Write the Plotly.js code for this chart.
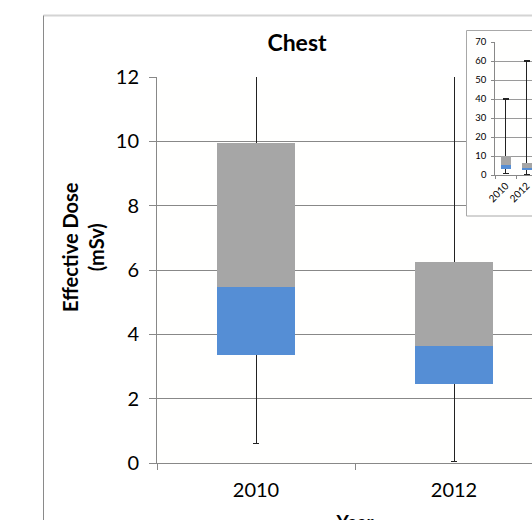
<!DOCTYPE html>
<html>
<head>
<meta charset="utf-8">
<script src="https://cdn.plot.ly/plotly-3.0.1.min.js"></script>
<style>
  html, body { margin: 0; padding: 0; overflow: hidden; background: #ffffff; }
  #chart { width: 640px; height: 560px; }
</style>
</head>
<body>
<div id="chart"></div>
<script>
// Chest CT effective dose (mSv) per survey year, drawn as box plots
const years = ['2010', '2012'];
const minDose = [0.6, 0.05];
const q1Dose = [3.35, 2.45];
const medianDose = [5.48, 3.64];
const q3Dose = [9.96, 6.26];
const maxDose = [40, 60];

const FONT = 'Lato, "Open Sans", sans-serif';
const BLUE = '#558ed5';
const GREY = '#a6a6a6';
const AXIS = '#888888';

// Figure geometry (pixels) used for paper-referenced frame lines
const W = 640, H = 560;
const M = { l: 157, r: 87, t: 30, b: 97 };
const PW = W - M.l - M.r, PH = H - M.t - M.b;
const px = v => (v - M.l) / PW;
const py = v => (H - M.b - v) / PH;

// A box is three stacked bars: an invisible base up to Q1 (carrying the
// whiskers), Q1..median in blue and median..Q3 in grey.
function boxTraces(xa, ya, width, capHalf, lineW) {
  const lower = medianDose.map((m, i) => m - q1Dose[i]);
  const upper = q3Dose.map((q, i) => q - medianDose[i]);
  const whiskerUp = maxDose.map((m, i) => m - q1Dose[i]);
  const whiskerDown = q1Dose.map((q, i) => q - minDose[i]);
  const common = { type: 'bar', x: years, xaxis: xa, yaxis: ya, width: width,
                   hoverinfo: 'skip', showlegend: false };
  return [
    Object.assign({}, common, {
      y: q1Dose,
      marker: { color: 'rgba(0,0,0,0)' },
      error_y: { type: 'data', symmetric: false, array: whiskerUp,
                 arrayminus: whiskerDown, color: '#222222',
                 thickness: lineW, width: capHalf }
    }),
    Object.assign({}, common, { y: lower, marker: { color: BLUE } }),
    Object.assign({}, common, { y: upper, marker: { color: GREY } })
  ];
}

const data = [
  ...boxTraces('x', 'y', 0.39, 3, 1),
  // white panel behind the inset chart
  { type: 'scatter', x: [], y: [], xaxis: 'x2', yaxis: 'y2',
    hoverinfo: 'skip', showlegend: false },
  ...boxTraces('x3', 'y3', 0.47, 3, 1.2)
];

const layout = {
  width: W, height: H,
  margin: M,
  paper_bgcolor: '#ffffff',
  plot_bgcolor: '#fffffe',
  barmode: 'stack',
  font: { family: FONT, color: '#000000' },
  title: {
    text: 'Chest',
    font: { family: FONT, size: 23, weight: 'bold', color: '#000000' },
    xref: 'container', yref: 'container',
    x: 297 / W, xanchor: 'center',
    y: 1 - 43 / H, yanchor: 'middle'
  },
  xaxis: {
    domain: [0, 1], anchor: 'y', type: 'category',
    showgrid: false, showline: true, linecolor: AXIS, linewidth: 1,
    ticks: 'outside', tickson: 'boundaries', ticklen: 6, tickcolor: AXIS,
    ticklabelstandoff: 9,
    tickfont: { family: FONT, size: 20, color: '#000000' },
    title: { text: 'Year', standoff: 15,
             font: { family: FONT, size: 19, weight: 'bold', color: '#000000' } },
    fixedrange: true
  },
  yaxis: {
    domain: [0, py(77)], anchor: 'x',
    range: [0, 12], dtick: 2, tick0: 0,
    showgrid: true, gridcolor: AXIS, gridwidth: 1, zeroline: false,
    showline: true, linecolor: AXIS, linewidth: 1,
    ticks: 'outside', ticklen: 7, tickcolor: AXIS,
    ticklabelstandoff: 6,
    tickfont: { family: FONT, size: 20, color: '#000000' },
    fixedrange: true
  },
  xaxis2: { domain: [px(466.5), 1], anchor: 'y2', visible: false, fixedrange: true },
  yaxis2: { domain: [py(216), 1], anchor: 'x2', visible: false, fixedrange: true },
  xaxis3: {
    domain: [px(495.3), px(537.3)], anchor: 'y3', type: 'category',
    showgrid: false, showline: true, linecolor: AXIS, linewidth: 1,
    ticks: 'outside', tickson: 'boundaries', ticklen: 3, tickcolor: AXIS,
    tickangle: -45,
    tickfont: { family: FONT, size: 10, color: '#000000' },
    fixedrange: true
  },
  yaxis3: {
    domain: [py(175), py(42)], anchor: 'x3',
    range: [0, 70], dtick: 10, tick0: 0,
    showgrid: true, gridcolor: '#9a9a9a', gridwidth: 1, zeroline: false,
    showline: true, linecolor: AXIS, linewidth: 1,
    ticks: 'outside', ticklen: 3, tickcolor: AXIS,
    ticklabelstandoff: 3,
    tickfont: { family: FONT, size: 9.5, color: '#000000' },
    fixedrange: true
  },
  annotations: [
    // y-axis title, centred on the box region rather than the full axis
    { text: 'Effective Dose<br>(mSv)', textangle: -90,
      xref: 'paper', yref: 'paper', x: px(83), y: py(247),
      xanchor: 'center', yanchor: 'middle', showarrow: false,
      font: { family: FONT, size: 20, weight: 'bold', color: '#000000' } }
  ],
  shapes: [
    // outer chart frame
    { type: 'line', xref: 'paper', yref: 'paper', layer: 'above',
      x0: px(43.5), x1: px(700), y0: py(15.5), y1: py(15.5),
      line: { color: '#d4d4d4', width: 2 } },
    { type: 'line', xref: 'paper', yref: 'paper', layer: 'above',
      x0: px(43.5), x1: px(43.5), y0: py(15.5), y1: py(620),
      line: { color: '#8a8a8a', width: 1 } },
    // inset frame
    { type: 'line', xref: 'paper', yref: 'paper', layer: 'above',
      x0: px(466.5), x1: px(700), y0: py(30.5), y1: py(30.5),
      line: { color: '#a8a8a8', width: 1 } },
    { type: 'line', xref: 'paper', yref: 'paper', layer: 'above',
      x0: px(466.5), x1: px(466.5), y0: py(30.5), y1: py(216),
      line: { color: '#a8a8a8', width: 1 } },
    { type: 'line', xref: 'paper', yref: 'paper', layer: 'above',
      x0: px(466.5), x1: px(700), y0: py(216), y1: py(216),
      line: { color: '#a8a8a8', width: 1 } }
  ]
};

Plotly.newPlot('chart', data, layout, { staticPlot: true, displayModeBar: false });
</script>
</body>
</html>
